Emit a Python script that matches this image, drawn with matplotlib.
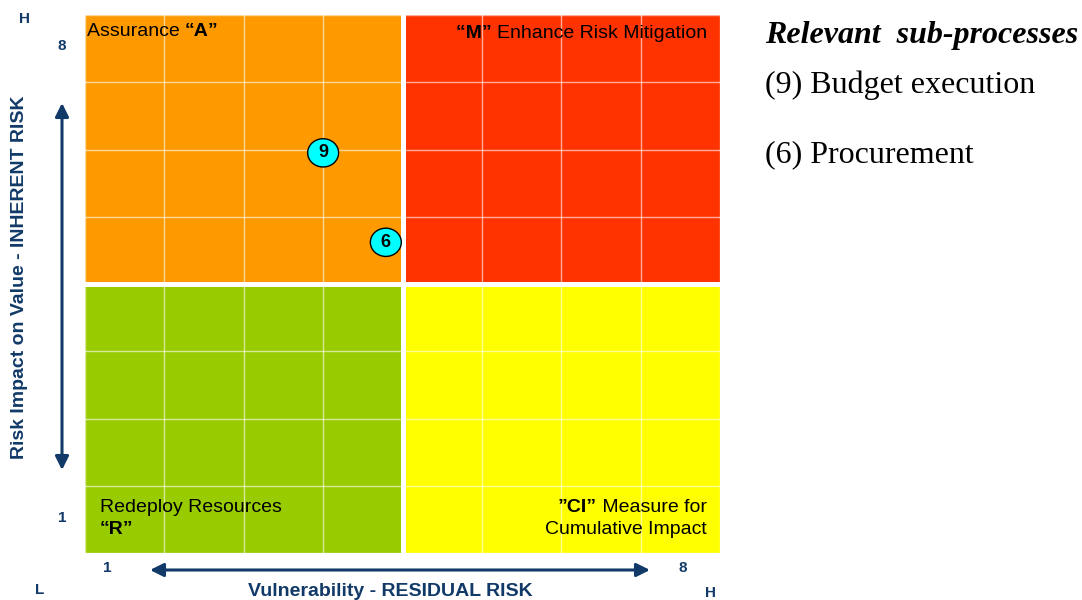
import matplotlib.pyplot as plt
from matplotlib.patches import Rectangle, Ellipse

# risk grid: 8x8 cells split into four 4x4 quadrants
quadrant_colors = {'A': '#FF9900', 'M': '#FF3300', 'R': '#99CC00', 'CI': '#FFFF00'}

# sub-processes plotted on the grid (vulnerability, impact)
proc_ids = ['9', '6']
vulnerability = [3.0, 3.79]
impact = [5.95, 4.62]
proc_names = ['(9) Budget execution', '(6) Procurement']

navy = '#123A68'
W, H = 1082, 600

fig = plt.figure(figsize=(W / 100, H / 100), dpi=100)
plt.rcParams['font.family'] = ['Liberation Sans', 'DejaVu Sans']


def fx(x):
    return x / W


def fy(y):
    return 1 - y / H


ax = fig.add_axes([fx(85), fy(553), (720 - 85) / W, (553 - 15) / H])
ax.set_xlim(0, 8)
ax.set_ylim(0, 8)
ax.axis('off')

# quadrants
for (x0, y0), key in zip([(0, 4), (4, 4), (0, 0), (4, 0)], ['A', 'M', 'R', 'CI']):
    ax.add_patch(Rectangle((x0, y0), 4, 4, facecolor=quadrant_colors[key], edgecolor='none', zorder=1))

# thin cell lines
for i in range(9):
    ax.axvline(i, color='white', alpha=0.6, lw=1.0, zorder=2)
    ax.axhline(i, color='white', alpha=0.6, lw=1.0, zorder=2)
# wide white gap between the quadrants
ax.axvline(4, color='white', lw=3.6, zorder=3)
ax.axhline(4, color='white', lw=3.6, zorder=3)

# sub-process markers
for pid, x, y in zip(proc_ids, vulnerability, impact):
    ax.add_patch(Ellipse((x, y), 0.39, 0.42, facecolor='#00FFFF', edgecolor='black', lw=1.0, zorder=5))
    ax.text(x, y, pid, ha='center', va='center', fontsize=13, fontweight='bold', zorder=6)

# quadrant captions
fs = 14
t = fig.text(fx(87), fy(32), 'Assurance ', fontsize=fs, va='center')
ax.annotate('\u201cA\u201d', xy=(1, 0), xycoords=t, va='bottom', fontsize=fs, fontweight='bold')

t = fig.text(fx(707), fy(34), 'Enhance Risk Mitigation', fontsize=fs, va='center', ha='right')
ax.annotate('\u201cM\u201d ', xy=(0, 0), xycoords=t, va='bottom', ha='right', fontsize=fs, fontweight='bold')

fig.text(fx(100), fy(507), 'Redeploy Resources', fontsize=fs, va='center')
fig.text(fx(100), fy(530), '\u201cR\u201d', fontsize=fs, va='center', fontweight='bold')

t = fig.text(fx(707), fy(507), ' Measure for', fontsize=fs, va='center', ha='right')
ax.annotate('\u201dCI\u201d', xy=(0, 0), xycoords=t, va='bottom', ha='right', fontsize=fs, fontweight='bold')
fig.text(fx(707), fy(530), 'Cumulative Impact', fontsize=fs, va='center', ha='right')

# axis labels, scale marks and arrows
fig.text(fx(20), fy(277), 'Risk Impact on Value - INHERENT RISK', rotation=90, ha='center', va='center',
         fontsize=14, fontweight='bold', color=navy)
fig.text(fx(390), fy(591), 'Vulnerability - RESIDUAL RISK', ha='center', va='center',
         fontsize=14, fontweight='bold', color=navy)

marks = [(25, 19, 'H'), (62, 46, '8'), (62, 518, '1'), (40, 590, 'L'),
         (107, 568, '1'), (683, 568, '8'), (710, 593, 'H')]
for x, y, s in marks:
    fig.text(fx(x), fy(y), s, ha='center', va='center', fontsize=11, fontweight='bold', color=navy)

arrow = dict(arrowstyle='<|-|>', color=navy, lw=2.2, mutation_scale=20, shrinkA=0, shrinkB=0)
ax.annotate('', xy=(fx(62), fy(103)), xytext=(fx(62), fy(470)), xycoords='figure fraction',
            textcoords='figure fraction', arrowprops=arrow)
ax.annotate('', xy=(fx(150), fy(570)), xytext=(fx(650), fy(570)), xycoords='figure fraction',
            textcoords='figure fraction', arrowprops=arrow)

# legend of sub-processes
serif = ['Liberation Serif', 'DejaVu Serif']
fig.text(fx(765), fy(36), 'Relevant  sub-processes', family=serif, fontsize=23,
         fontweight='bold', fontstyle='italic', va='center')
for y, name in zip([85, 155], proc_names):
    fig.text(fx(765), fy(y), name, family=serif, fontsize=23, va='center')

fig.savefig('out.png', dpi=100)
